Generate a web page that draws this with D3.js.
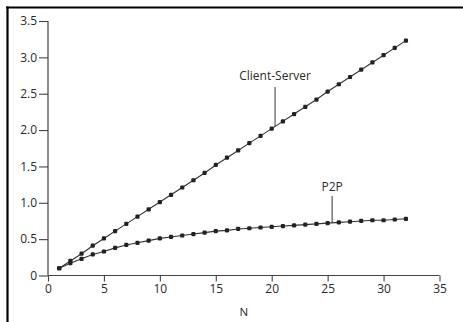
<!DOCTYPE html>
<html>
<head>
<meta charset="utf-8">
<script src="https://cdn.jsdelivr.net/npm/d3@7"></script>
<style>
  html, body { margin: 0; padding: 0; background: #fff; }
  svg { display: block; }
  text { font-family: "Open Sans", "DejaVu Sans", sans-serif; fill: #2a2a2a; }
</style>
</head>
<body>
<script>
// ---- data ----
const nValues = [1,2,3,4,5,6,7,8,9,10,11,12,13,14,15,16,17,18,19,20,21,22,23,24,25,26,27,28,29,30,31,32];
const clientServer = [0.10,0.20,0.30,0.41,0.51,0.61,0.71,0.81,0.91,1.01,1.11,1.21,1.31,1.41,1.52,1.62,1.72,1.82,1.92,2.02,2.12,2.22,2.32,2.42,2.53,2.63,2.73,2.83,2.93,3.03,3.13,3.23];
const p2p = [0.10,0.17,0.23,0.29,0.33,0.38,0.42,0.45,0.48,0.51,0.53,0.55,0.57,0.59,0.61,0.62,0.64,0.65,0.66,0.67,0.68,0.69,0.70,0.71,0.72,0.73,0.74,0.75,0.76,0.76,0.77,0.78];
const xTicks = [0,5,10,15,20,25,30,35];
const yTicks = [0,0.5,1.0,1.5,2.0,2.5,3.0,3.5];
const yTickLabels = ["0","0.5","1.0","1.5","2.0","2.5","3.0","3.5"];
const xLabel = "N";
const seriesLabels = ["Client-Server", "P2P"];
const labelAtN = [20.3, 25.4];

const W = 463, H = 322;
const svg = d3.select("body").append("svg").attr("width", W).attr("height", H);

// frame (top and left border)
svg.append("line").attr("x1", 6).attr("x2", W).attr("y1", 7.5).attr("y2", 7.5)
  .attr("stroke", "#000").attr("stroke-width", 2.2);
svg.append("line").attr("x1", 7.5).attr("x2", 7.5).attr("y1", 6.5).attr("y2", H)
  .attr("stroke", "#000").attr("stroke-width", 2.2);

const x = d3.scaleLinear().domain([0, 35]).range([48, 439.5]);
const y = d3.scaleLinear().domain([0, 3.5]).range([275.5, 21]);

// x axis
const xAxis = svg.append("g").attr("transform", `translate(0,${y(0)})`)
  .call(d3.axisBottom(x).tickValues(xTicks).tickSize(6).tickPadding(3).tickFormat(d3.format("d")));
xAxis.select(".domain").attr("stroke", "#444").attr("stroke-width", 1.2).attr("d", `M${x(0)},0H${x(35)}`);
xAxis.selectAll(".tick line").attr("stroke", "#444").attr("stroke-width", 1.1);
xAxis.selectAll(".tick text").style("font-size", "12px").attr("fill", "#2a2a2a");

// y axis
const yAxis = svg.append("g").attr("transform", `translate(${x(0)},0)`)
  .call(d3.axisLeft(y).tickValues(yTicks).tickSize(9).tickPadding(2)
    .tickFormat((d, i) => yTickLabels[i]));
yAxis.select(".domain").attr("stroke", "#444").attr("stroke-width", 1.2).attr("d", `M0,${y(0)}V${y(3.5)}`);
yAxis.selectAll(".tick line").attr("stroke", "#444").attr("stroke-width", 1.1);
yAxis.selectAll(".tick text").style("font-size", "12px").attr("fill", "#2a2a2a");

// x label
svg.append("text").attr("x", (x(0) + x(35)) / 2 + 0).attr("y", 316)
  .attr("text-anchor", "middle").style("font-size", "11.5px").text(xLabel);

// series
const series = [clientServer, p2p];
const line = d3.line().x((d, i) => x(nValues[i])).y(d => y(d));
series.forEach(vals => {
  svg.append("path").datum(vals).attr("d", line)
    .attr("fill", "none").attr("stroke", "#333").attr("stroke-width", 1.1);
  svg.append("g").selectAll("rect").data(vals).join("rect")
    .attr("x", (d, i) => x(nValues[i]) - 2.1)
    .attr("y", d => y(d) - 2.1)
    .attr("width", 4.2).attr("height", 4.2).attr("rx", 1.2)
    .attr("fill", "#222");
});

// labels with leader lines
const interp = (vals, n) => {
  const i = Math.floor(n) - 1;
  const t = n - Math.floor(n);
  return vals[i] + (vals[i + 1] - vals[i]) * t;
};
const labelTopY = [87, 196];
const labelTextY = [80, 191];
series.forEach((vals, k) => {
  const lx = x(labelAtN[k]);
  svg.append("line").attr("x1", lx).attr("x2", lx)
    .attr("y1", labelTopY[k]).attr("y2", y(interp(vals, labelAtN[k])))
    .attr("stroke", "#333").attr("stroke-width", 1);
  svg.append("text").attr("x", lx).attr("y", labelTextY[k])
    .attr("text-anchor", "middle").style("font-size", "12px").text(seriesLabels[k]);
});
</script>
</body>
</html>
